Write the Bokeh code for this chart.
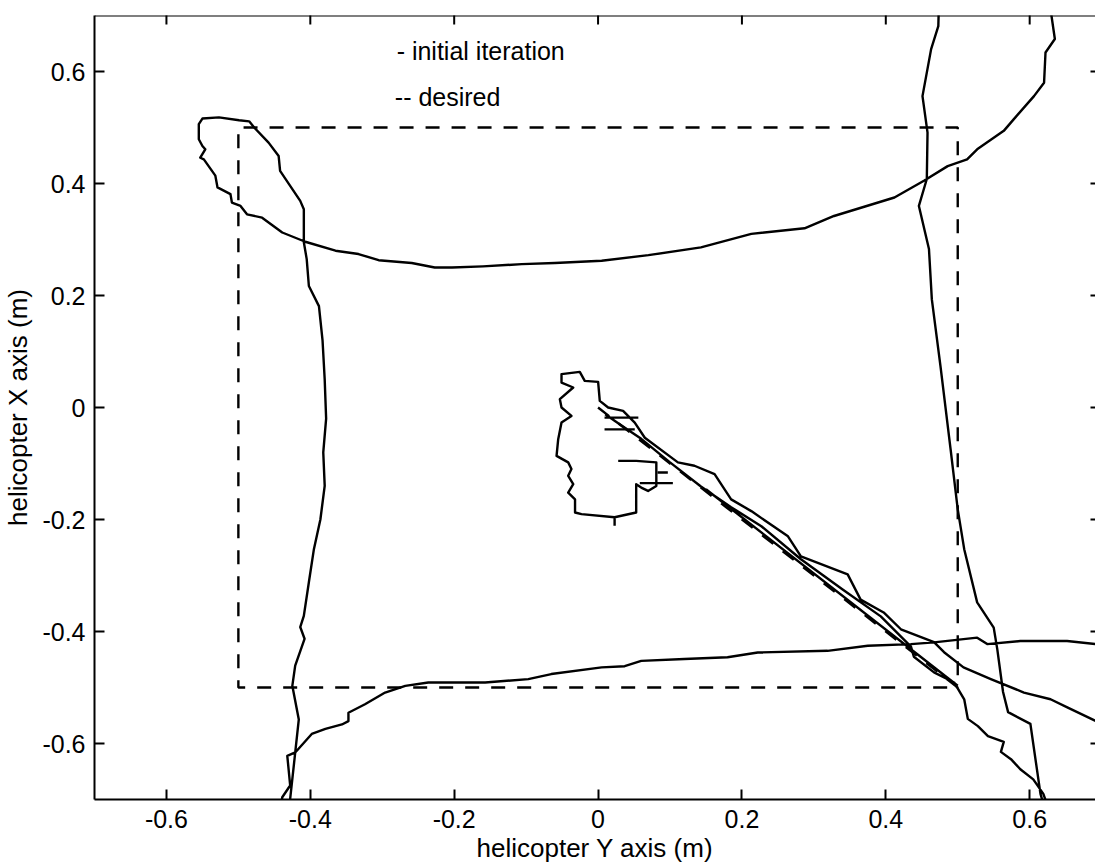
import numpy as np
from bokeh.plotting import figure
from bokeh.models import Range1d, FixedTicker, Label, Span
from bokeh.embed import file_html
from bokeh.resources import INLINE

nan = float("nan")

# ---- tick values / labels ----
tick_vals = [-0.6, -0.4, -0.2, 0.0, 0.2, 0.4, 0.6]
tick_labels = ["-0.6", "-0.4", "-0.2", "0", "0.2", "0.4", "0.6"]

# ---- desired path (dashed): helicopter Y (horizontal), helicopter X (vertical) ----
desired_Y = [0.0, 0.5, 0.5, -0.5, -0.5, 0.5]
desired_X = [0.0, -0.5, 0.5, 0.5, -0.5, -0.5]

# ---- initial iteration (solid), leg by leg ----
# outgoing diagonal from the centre toward lower right
out_Y = [0.010, 0.030, 0.060, 0.100, 0.143, 0.185, 0.227, 0.282, 0.340, 0.393, 0.435, 0.439,
         0.467, 0.495, 0.509, 0.514, 0.528, 0.542, 0.564, 0.560, 0.574, 0.587, 0.605, 0.619, 0.630]
out_X = [-0.012, -0.030, -0.056, -0.098, -0.141, -0.178, -0.212, -0.271, -0.325, -0.373, -0.427, -0.445,
         -0.473, -0.491, -0.521, -0.556, -0.569, -0.587, -0.597, -0.615, -0.628, -0.646, -0.664, -0.690, -0.730]
# right leg, bottom to top
right_Y = [0.622, 0.615, 0.601, 0.570, 0.563, 0.555, 0.550, 0.527, 0.509, 0.500, 0.490, 0.476,
           0.464, 0.460, 0.446, 0.457, 0.458, 0.451, 0.463, 0.473, 0.474]
right_X = [-0.720, -0.690, -0.565, -0.544, -0.508, -0.432, -0.393, -0.348, -0.253, -0.182, -0.074, 0.074,
           0.193, 0.283, 0.360, 0.408, 0.491, 0.556, 0.640, 0.681, 0.730]
# top leg, right to left, with the upper-left corner loop
top_Y = [0.630, 0.629, 0.635, 0.622, 0.620, 0.606, 0.578, 0.564, 0.527, 0.513, 0.486, 0.453, 0.412,
         0.328, 0.287, 0.213, 0.143, 0.070, 0.005, -0.060, -0.106, -0.160, -0.203, -0.227, -0.259,
         -0.305, -0.333, -0.365, -0.407, -0.439, -0.467, -0.488, -0.497, -0.509, -0.511, -0.529,
         -0.532, -0.548, -0.553, -0.546, -0.550, -0.555, -0.555, -0.550, -0.527, -0.499, -0.485,
         -0.478, -0.458, -0.444, -0.442, -0.414, -0.409, -0.409, -0.405, -0.402, -0.388]
top_X = [0.730, 0.711, 0.658, 0.634, 0.580, 0.556, 0.515, 0.494, 0.461, 0.443, 0.431, 0.405, 0.375,
         0.342, 0.320, 0.310, 0.286, 0.272, 0.262, 0.258, 0.256, 0.252, 0.250, 0.250, 0.258,
         0.263, 0.274, 0.280, 0.296, 0.3125, 0.339, 0.345, 0.360, 0.366, 0.381, 0.393,
         0.414, 0.443, 0.446, 0.461, 0.467, 0.479, 0.506, 0.516, 0.518, 0.513, 0.511,
         0.500, 0.473, 0.449, 0.4225, 0.369, 0.354, 0.295, 0.265, 0.217, 0.181]
# left leg, top to bottom
left_Y = [-0.383, -0.380, -0.378, -0.382, -0.380, -0.386, -0.395, -0.402, -0.409, -0.414, -0.408,
          -0.421, -0.425, -0.416, -0.423, -0.428, -0.430]
left_X = [0.120, 0.050, -0.020, -0.080, -0.140, -0.200, -0.253, -0.312, -0.372, -0.392, -0.413,
          -0.461, -0.497, -0.557, -0.640, -0.699, -0.740]
# bottom leg, left to right
bottom_Y = [-0.445, -0.439, -0.428, -0.432, -0.421, -0.398, -0.379, -0.356, -0.347, -0.347, -0.324,
            -0.296, -0.268, -0.236, -0.157, -0.097, -0.065, 0.005, 0.037, 0.060, 0.120, 0.180, 0.222,
            0.319, 0.375, 0.435, 0.467, 0.527, 0.541, 0.587, 0.606, 0.652, 0.692, 0.740]
bottom_X = [-0.740, -0.696, -0.675, -0.622, -0.616, -0.583, -0.574, -0.566, -0.560, -0.545, -0.530,
            -0.509, -0.497, -0.491, -0.491, -0.485, -0.476, -0.464, -0.462, -0.4525, -0.449, -0.446, -0.4375,
            -0.4345, -0.4255, -0.4225, -0.4195, -0.411, -0.4225, -0.417, -0.417, -0.417, -0.4225, -0.425]
# return diagonal from the right edge back into the centre, ending in the small loop
back_Y = [0.740, 0.692, 0.653, 0.629, 0.592, 0.546, 0.508, 0.481, 0.467, 0.449, 0.421, 0.397, 0.365,
          0.347, 0.282, 0.264, 0.213, 0.185, 0.162, 0.134, 0.111, 0.065, 0.051, 0.0348, 0.014, 0.0024,
          0.0001, -0.0185, -0.0254, -0.0508, -0.0508, -0.0345, -0.0531, -0.0508, -0.037, -0.0508,
          -0.0554, -0.0577, -0.0415, -0.037, -0.0415, -0.0345, -0.0415, -0.032, -0.032, -0.023,
          0.023, 0.053, 0.053, 0.060, 0.0695, 0.081, 0.081, 0.053, 0.028]
back_X = [-0.590, -0.560, -0.536, -0.521, -0.509, -0.485, -0.464, -0.437, -0.419, -0.410, -0.396, -0.366, -0.343,
          -0.298, -0.266, -0.230, -0.185, -0.164, -0.119, -0.104, -0.098, -0.054, -0.027, -0.006, 0.0, 0.0118,
          0.0457, 0.0475, 0.0636, 0.0595, 0.0446, 0.0357, 0.0148, 0.0, -0.015, -0.0268,
          -0.0566, -0.0864, -0.098, -0.110, -0.122, -0.137, -0.152, -0.164, -0.1875, -0.1905,
          -0.196, -0.1875, -0.137, -0.143, -0.149, -0.140, -0.098, -0.0954, -0.0954]
# short strokes near the centre and the straight stretch along the diagonal
marks_Y = [0.009, 0.056, nan, 0.009, 0.051, nan, 0.083, 0.097, nan, 0.058, 0.104, nan, 0.023, 0.023,
           nan, 0.150, 0.500]
marks_X = [-0.018, -0.018, nan, -0.039, -0.039, nan, -0.116, -0.116, nan, -0.135, -0.135, nan, -0.196, -0.211,
           nan, -0.146, -0.497]

init_Y = out_Y + right_Y + top_Y + left_Y + bottom_Y + back_Y + [nan] + marks_Y
init_X = out_X + right_X + top_X + left_X + bottom_X + back_X + [nan] + marks_X

FONT = "Liberation Sans"
X_START, X_END = -0.7, 0.6915
Y_START, Y_END = -0.7, 0.7

p = figure(width=1095, height=865, output_backend="svg", toolbar_location=None,
           x_range=Range1d(X_START, X_END), y_range=Range1d(Y_START, Y_END),
           min_border_left=92, min_border_right=0, min_border_top=15, min_border_bottom=65,
           x_axis_label="helicopter Y axis (m)", y_axis_label="helicopter X axis (m)")
p.outline_line_color = None
p.grid.visible = False
p.background_fill_color = "white"
p.border_fill_color = "white"

p.line(init_Y, init_X, line_color="black", line_width=2.4, line_join="round")
p.line(desired_Y, desired_X, line_color="black", line_width=2.4, line_dash="14 12")

ticker = FixedTicker(ticks=tick_vals)
overrides = {v: s for v, s in zip(tick_vals, tick_labels)}

for ax in (p.xaxis[0], p.yaxis[0]):
    ax.ticker = ticker
    ax.major_label_overrides = overrides
    ax.major_tick_in = 10
    ax.major_tick_out = 0
    ax.minor_tick_line_color = None
    ax.axis_line_width = 2
    ax.major_tick_line_width = 2
    ax.major_label_text_font = FONT
    ax.major_label_text_font_size = "25px"
    ax.major_label_text_color = "black"
    ax.axis_label_text_font = FONT
    ax.axis_label_text_font_size = "26px"
    ax.axis_label_text_font_style = "normal"
    ax.axis_label_text_color = "black"
p.xaxis[0].major_label_standoff = 10
p.xaxis[0].axis_label_standoff = 2
p.yaxis[0].major_label_standoff = 9
p.yaxis[0].axis_label_standoff = 6

# top border line and inward ticks on the top and right edges of the box
p.add_layout(Span(location=Y_END, dimension="width", line_color="black", line_width=2))
p.scatter(x=tick_vals, y=[Y_END] * len(tick_vals), marker="dash", angle=np.pi / 2,
          size=18, line_color="black", line_width=2)
p.scatter(x=[X_END] * len(tick_vals), y=tick_vals, marker="dash",
          size=10, line_color="black", line_width=2)

p.add_layout(Label(x=-0.28, y=0.636, text="- initial iteration", text_font=FONT,
                   text_font_size="25px", text_baseline="alphabetic", text_color="black"))
p.add_layout(Label(x=-0.2825, y=0.554, text="-- desired", text_font=FONT,
                   text_font_size="25px", text_baseline="alphabetic", text_color="black"))

open("out.html", "w").write(file_html(p, INLINE))
